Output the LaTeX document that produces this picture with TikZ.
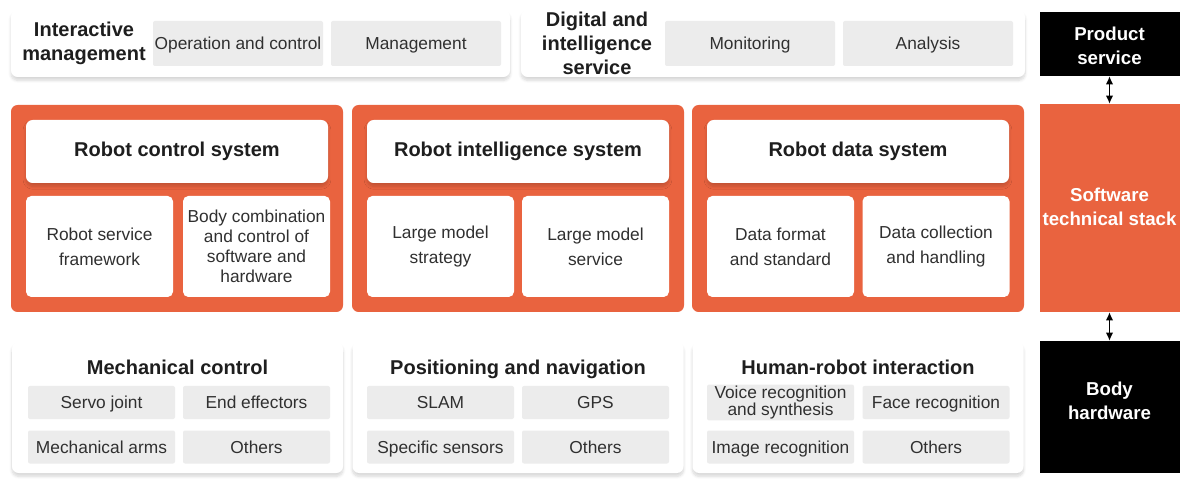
\documentclass[tikz,border=0pt]{standalone}
\usepackage{fontspec}
\setmainfont{Liberation Sans}
\setsansfont{Liberation Sans}
\usetikzlibrary{arrows.meta,shadows.blur}
\definecolor{stackOrange}{RGB}{233,99,63}
\definecolor{cellGray}{RGB}{236,236,236}
\definecolor{textDark}{RGB}{30,30,30}
\definecolor{textBody}{RGB}{48,48,48}

\begin{document}
\begin{tikzpicture}[
  x=0.75pt, y=-0.75pt,
  font=\sffamily,
  softshadow/.style={blur shadow={shadow xshift=0pt, shadow yshift=-2.5pt,
    shadow blur steps=8, shadow opacity=16}},
  panel/.style={fill=white, rounded corners=5pt, softshadow,
    minimum width=248.25pt, minimum height=98.25pt},
  block/.style={fill=stackOrange, rounded corners=5pt,
    minimum width=249pt, minimum height=155.25pt},
  title/.style={font=\bfseries\fontsize{15}{18}\selectfont, text=textDark, align=center},
  rowtitle/.style={title, text height=10.7pt, text depth=0pt},
  syshead/.style={rowtitle, text depth=3pt, fill=white, rounded corners=5pt, softshadow,
    minimum width=226.5pt, minimum height=47.25pt},
  sub/.style={fill=white, rounded corners=4pt, inner sep=1pt, align=center,
    minimum width=110.25pt, minimum height=75.75pt, text=textBody,
    font=\fontsize{13}{18.5}\selectfont},
  cell/.style={fill=cellGray, rounded corners=1.5pt, inner sep=1pt, align=center,
    minimum width=110.25pt, minimum height=24.75pt, text=textBody,
    font=\fontsize{13}{13}\selectfont, text height=9.3pt, text depth=0pt},
  topcell/.style={cell, minimum width=127.5pt, minimum height=33.75pt},
  side/.style={inner sep=0pt, minimum width=105pt},
  sidetext/.style={title, text=white, font=\bfseries\fontsize{14}{18}\selectfont},
  link/.style={line width=0.9pt, {Latex[length=6pt,width=5.5pt]}-{Latex[length=6pt,width=5.5pt]}}
]
\useasboundingbox (0,0) rectangle (1200,488);

% Product service layer.
\node[panel, minimum width=374.25pt, minimum height=50.25pt] (mgmtpanel) at (260.5,43.5) {};
\node[title] (mgmthead) at (84,43) {Interactive\\management};
\node[topcell] (opctrl) at (238,43.5) {Operation and control};
\node[topcell] (mgmt) at (416,43.5) {Management};

\node[panel, minimum width=378pt, minimum height=50.25pt] (digipanel) at (773,43.5) {};
\node[title] (digihead) at (597,43) {Digital and\\intelligence\\service};
\node[topcell] (monitor) at (750,43.5) {Monitoring};
\node[topcell] (analysis) at (928,43.5) {Analysis};

% Software technical stack.
\node[block] (ctrlsys) at (177,208.5) {};
\node[syshead] (ctrlhead) at (177,151.5) {Robot control system};
\node[sub] (framework) at (99.5,246.5) {Robot service\\framework};
\node[sub, font=\fontsize{13}{15}\selectfont] (bodyctrl) at (256.5,246.5)
  {Body combination\\and control of\\software and\\hardware};

\node[block] (intsys) at (518,208.5) {};
\node[syshead] (inthead) at (518,151.5) {Robot intelligence system};
\node[sub] (strategy) at (440.5,246.5) {Large model\\strategy};
\node[sub] (modelsrv) at (595.5,246.5) {Large model\\service};

\node[block] (datasys) at (858,208.5) {};
\node[syshead] (datahead) at (858,151.5) {Robot data system};
\node[sub] (format) at (780.5,246.5) {Data format\\and standard};
\node[sub] (collect) at (936,246.5) {Data collection\\and handling};

% Body hardware layer.
\node[panel] (mechpanel) at (177.5,407.5) {};
\node[rowtitle] (mechhead) at (177.5,367) {Mechanical control};
\node[cell] (servo) at (101.5,402.5) {Servo joint};
\node[cell] (effector) at (256.5,402.5) {End effectors};
\node[cell] (arms) at (101.5,447) {Mechanical arms};
\node[cell] (mechother) at (256.5,447) {Others};

\node[panel] (navpanel) at (518,407.5) {};
\node[rowtitle] (navhead) at (518,367) {Positioning and navigation};
\node[cell] (slam) at (440.5,402.5) {SLAM};
\node[cell] (gps) at (595.5,402.5) {GPS};
\node[cell] (sensors) at (440.5,447) {Specific sensors};
\node[cell] (navother) at (595.5,447) {Others};

\node[panel] (hripanel) at (858,407.5) {};
\node[rowtitle] (hrihead) at (858,367) {Human-robot interaction};
\node[cell, font=\fontsize{13}{12.75}\selectfont, text height=, text depth=] (voice)
  at (780.5,402.5) {Voice recognition\\and synthesis};
\node[cell] (face) at (936,402.5) {Face recognition};
\node[cell] (image) at (780.5,447) {Image recognition};
\node[cell] (hriother) at (936,447) {Others};

% Layer column on the right.
\node[side, fill=black, minimum height=48pt] (product) at (1109.5,44) {};
\node[sidetext] (producttext) at (1109.5,45.5) {Product\\service};
\node[side, fill=stackOrange, minimum height=156pt] (stack) at (1109.5,208) {};
\node[sidetext] (stacktext) at (1109.5,206.5) {Software\\technical stack};
\node[side, fill=black, minimum height=99pt] (body) at (1109.5,407) {};
\node[sidetext] (bodytext) at (1109.5,401) {Body\\hardware};

\draw[link] (product) -- (stack);
\draw[link] (stack) -- (body);

\end{tikzpicture}
\end{document}
